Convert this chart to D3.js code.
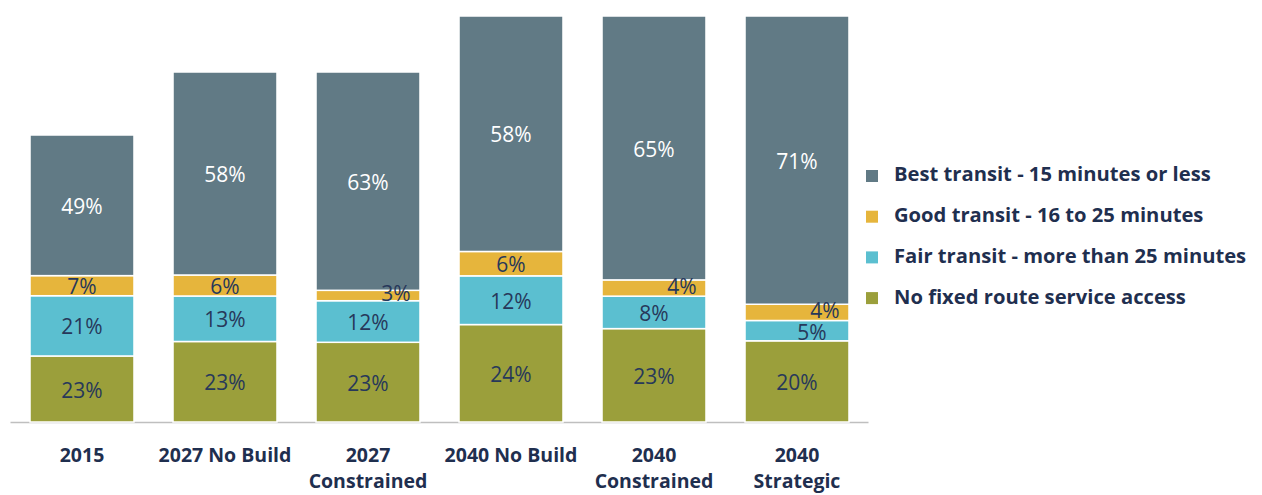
<!DOCTYPE html>
<html>
<head>
<meta charset="utf-8">
<script src="https://cdn.jsdelivr.net/npm/d3@7"></script>
<style>
  body { margin: 0; background: #fff; }
  svg { display: block; font-family: "Open Sans", Lato, sans-serif; }
</style>
</head>
<body>
<svg width="1262" height="495"></svg>
<script>
// scenarios along the x axis
const categories = ["2015", "2027 No Build", "2027\nConstrained", "2040 No Build", "2040\nConstrained", "2040\nStrategic"];
// bar totals (relative size of each scenario)
const totals = [287, 350, 350, 406, 406, 406];
// share of each access level, in percent (bottom to top)
const noFixed = [23, 23, 23, 24, 23, 20];
const fair = [21, 13, 12, 12, 8, 5];
const good = [7, 6, 3, 6, 4, 4];
const best = [49, 58, 63, 58, 65, 71];

const seriesNames = ["No fixed route service access", "Fair transit - more than 25 minutes", "Good transit - 16 to 25 minutes", "Best transit - 15 minutes or less"];
const colors = ["#9b9f3b", "#5bbfd0", "#e6b53c", "#617a85"];

window.addEventListener("DOMContentLoaded", () => {
  const svg = d3.select("svg");
  const series = [noFixed, fair, good, best];

  // build rows: each segment scaled to its bar total
  const rows = categories.map((c, i) => {
    const sum = d3.sum(series, s => s[i]);
    const row = { cat: c, total: totals[i] };
    series.forEach((s, k) => { row["s" + k] = totals[i] * s[i] / sum; row["p" + k] = s[i]; });
    return row;
  });

  const keys = ["s0", "s1", "s2", "s3"];
  const stacked = d3.stack().keys(keys)(rows);

  const x = d3.scaleBand().domain(categories).range([10.5, 868.5]).paddingInner(0.273).paddingOuter(0.1365);
  const y = d3.scaleLinear().domain([0, d3.max(totals)]).range([422, 16]);

  // axis baseline
  svg.append("line")
    .attr("x1", x.range()[0]).attr("x2", x.range()[1])
    .attr("y1", y(0) + 0.5).attr("y2", y(0) + 0.5)
    .attr("stroke", "#bfbfbf").attr("stroke-width", 1.5);

  const layer = svg.append("g").selectAll("g")
    .data(stacked)
    .join("g")
    .attr("fill", (d, k) => colors[k]);

  layer.selectAll("rect")
    .data(d => d)
    .join("rect")
    .attr("x", d => x(d.data.cat))
    .attr("width", x.bandwidth())
    .attr("y", d => y(d[1]))
    .attr("height", d => y(d[0]) - y(d[1]))
    .attr("stroke", "#fff")
    .attr("stroke-width", 1.5);

  // percentage labels (thin segments get their label pushed right)
  stacked.forEach((s, k) => {
    svg.append("g").selectAll("text")
      .data(s)
      .join("text")
      .attr("x", d => {
        const p = d.data["p" + k];
        let dx = 0;
        if (p <= 4) dx = 28; else if (p === 5) dx = 15;
        return x(d.data.cat) + x.bandwidth() / 2 + dx;
      })
      .attr("y", d => {
        const p = d.data["p" + k];
        const mid = (y(d[0]) + y(d[1])) / 2;
        if (p <= 5 && k === 2) return mid;
        if (p <= 5 && k === 1) return mid + 4;
        return mid + 3;
      })
      .attr("text-anchor", "middle")
      .attr("dominant-baseline", "middle")
      .attr("font-size", 21)
      .attr("fill", k === 3 ? "#ffffff" : "#27385a")
      .text(d => d.data["p" + k] + "%");
  });

  // category labels
  const xl = svg.append("g").selectAll("text")
    .data(categories)
    .join("text")
    .attr("x", d => x(d) + x.bandwidth() / 2)
    .attr("y", 462)
    .attr("text-anchor", "middle")
    .attr("font-size", 19.5)
    .attr("font-weight", "bold")
    .attr("fill", "#1f2f4f");
  xl.each(function (d) {
    d.split("\n").forEach((line, j) => {
      d3.select(this).append("tspan")
        .attr("x", x(d) + x.bandwidth() / 2)
        .attr("dy", j === 0 ? 0 : 26)
        .text(line);
    });
  });

  // legend, top item is "Best transit"
  const legend = svg.append("g").attr("transform", "translate(866,176)");
  const order = [3, 2, 1, 0];
  order.forEach((k, i) => {
    const g = legend.append("g").attr("transform", `translate(0,${i * 40.7})`);
    g.append("rect").attr("x", 0).attr("y", -6).attr("width", 12).attr("height", 12).attr("fill", colors[k]);
    g.append("text")
      .attr("x", 28).attr("y", 0)
      .attr("dominant-baseline", "middle")
      .attr("font-size", 20.2)
      .attr("font-weight", "bold")
      .attr("fill", "#1f2f4f")
      .text(seriesNames[k]);
  });
});
</script>
</body>
</html>
